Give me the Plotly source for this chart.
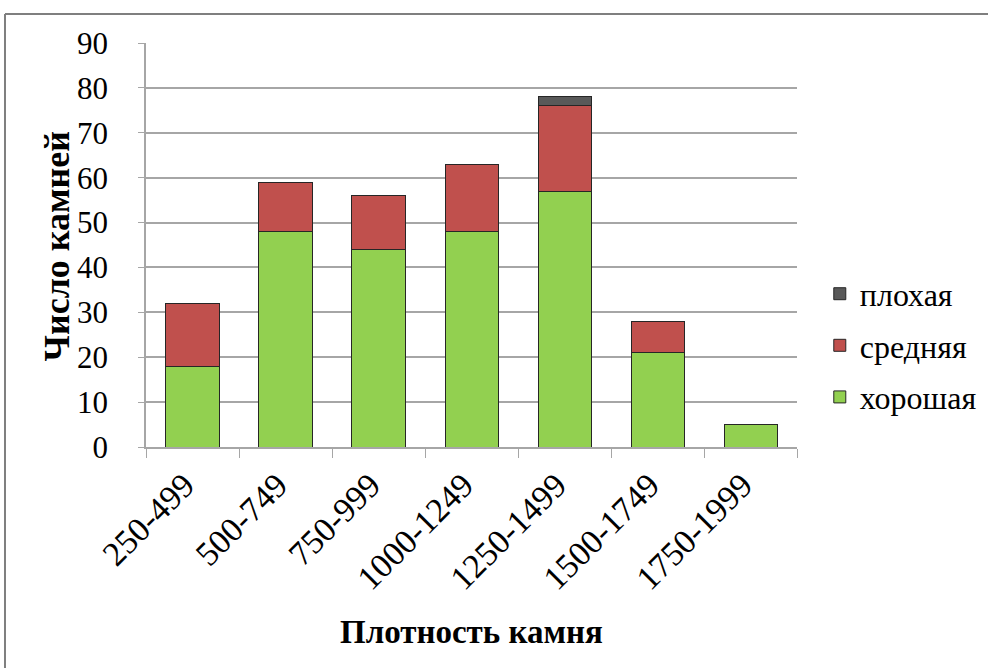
import plotly.graph_objects as go

categories = ["250-499", "500-749", "750-999", "1000-1249", "1250-1499", "1500-1749", "1750-1999"]
good = [18, 48, 44, 48, 57, 21, 5]
medium = [14, 11, 12, 15, 19, 7, None]
bad = [None, None, None, None, 2, None, None]

FONT = "Liberation Serif"
outline = dict(color="#262626", width=1)

fig = go.Figure()
fig.add_bar(x=categories, y=good, name="хорошая", marker=dict(color="#92d050", line=outline),
            legendgroup="g1", legendrank=3)
fig.add_bar(x=categories, y=medium, name="средняя", marker=dict(color="#c0504d", line=outline),
            legendgroup="g2", legendrank=2)
fig.add_bar(x=categories, y=bad, name="плохая", marker=dict(color="#595959", line=outline),
            legendgroup="g3", legendrank=1)

fig.update_layout(
    width=988, height=668,
    barmode="stack", bargap=0.43,
    plot_bgcolor="white", paper_bgcolor="white",
    margin=dict(l=146, r=191, t=43, b=221, autoexpand=False),
    font=dict(family=FONT, color="black", size=30),
    showlegend=True,
    legend=dict(x=1.035, xanchor="left", y=0.447, yanchor="top",
                traceorder="grouped", tracegroupgap=7,
                font=dict(size=32, family=FONT), itemwidth=30),
    xaxis=dict(type="category", tickangle=-45, tickson="boundaries",
               ticks="outside", ticklen=9, tickcolor="#a6a6a6", tickwidth=1,
               showline=True, linecolor="#a6a6a6", linewidth=1.5,
               tickfont=dict(size=34, family=FONT), showgrid=False,
               ticklabelstandoff=3, ticklabelshift=-8, automargin=False),
    yaxis=dict(range=[0, 90], dtick=10, ticks="outside", ticklen=6, tickcolor="#a6a6a6",
               showline=True, linecolor="#a6a6a6", linewidth=1.5,
               showgrid=True, gridcolor="#a6a6a6", gridwidth=1.5,
               tickfont=dict(size=31, family=FONT), zeroline=False,
               ticklabelstandoff=24, automargin=False),
    annotations=[
        dict(text="<b>Число камней</b>", textangle=-90, xref="paper", yref="paper",
             x=-0.136, y=0.4975, xanchor="center", yanchor="middle", showarrow=False,
             font=dict(size=36, family=FONT)),
        dict(text="<b>Плотность камня</b>", xref="paper", yref="paper",
             x=0.5, y=-0.458, xanchor="center", yanchor="middle", showarrow=False,
             font=dict(size=33, family=FONT)),
    ],
    shapes=[
        dict(type="line", xref="paper", yref="paper", x0=-0.2166, x1=1.3, y0=1.0718, y1=1.0718,
             line=dict(color="#7f7f7f", width=2)),
        dict(type="line", xref="paper", yref="paper", x0=-0.2166, x1=-0.2166, y0=1.0718, y1=-0.6,
             line=dict(color="#7f7f7f", width=2)),
    ],
)

fig.write_html("out.html")
